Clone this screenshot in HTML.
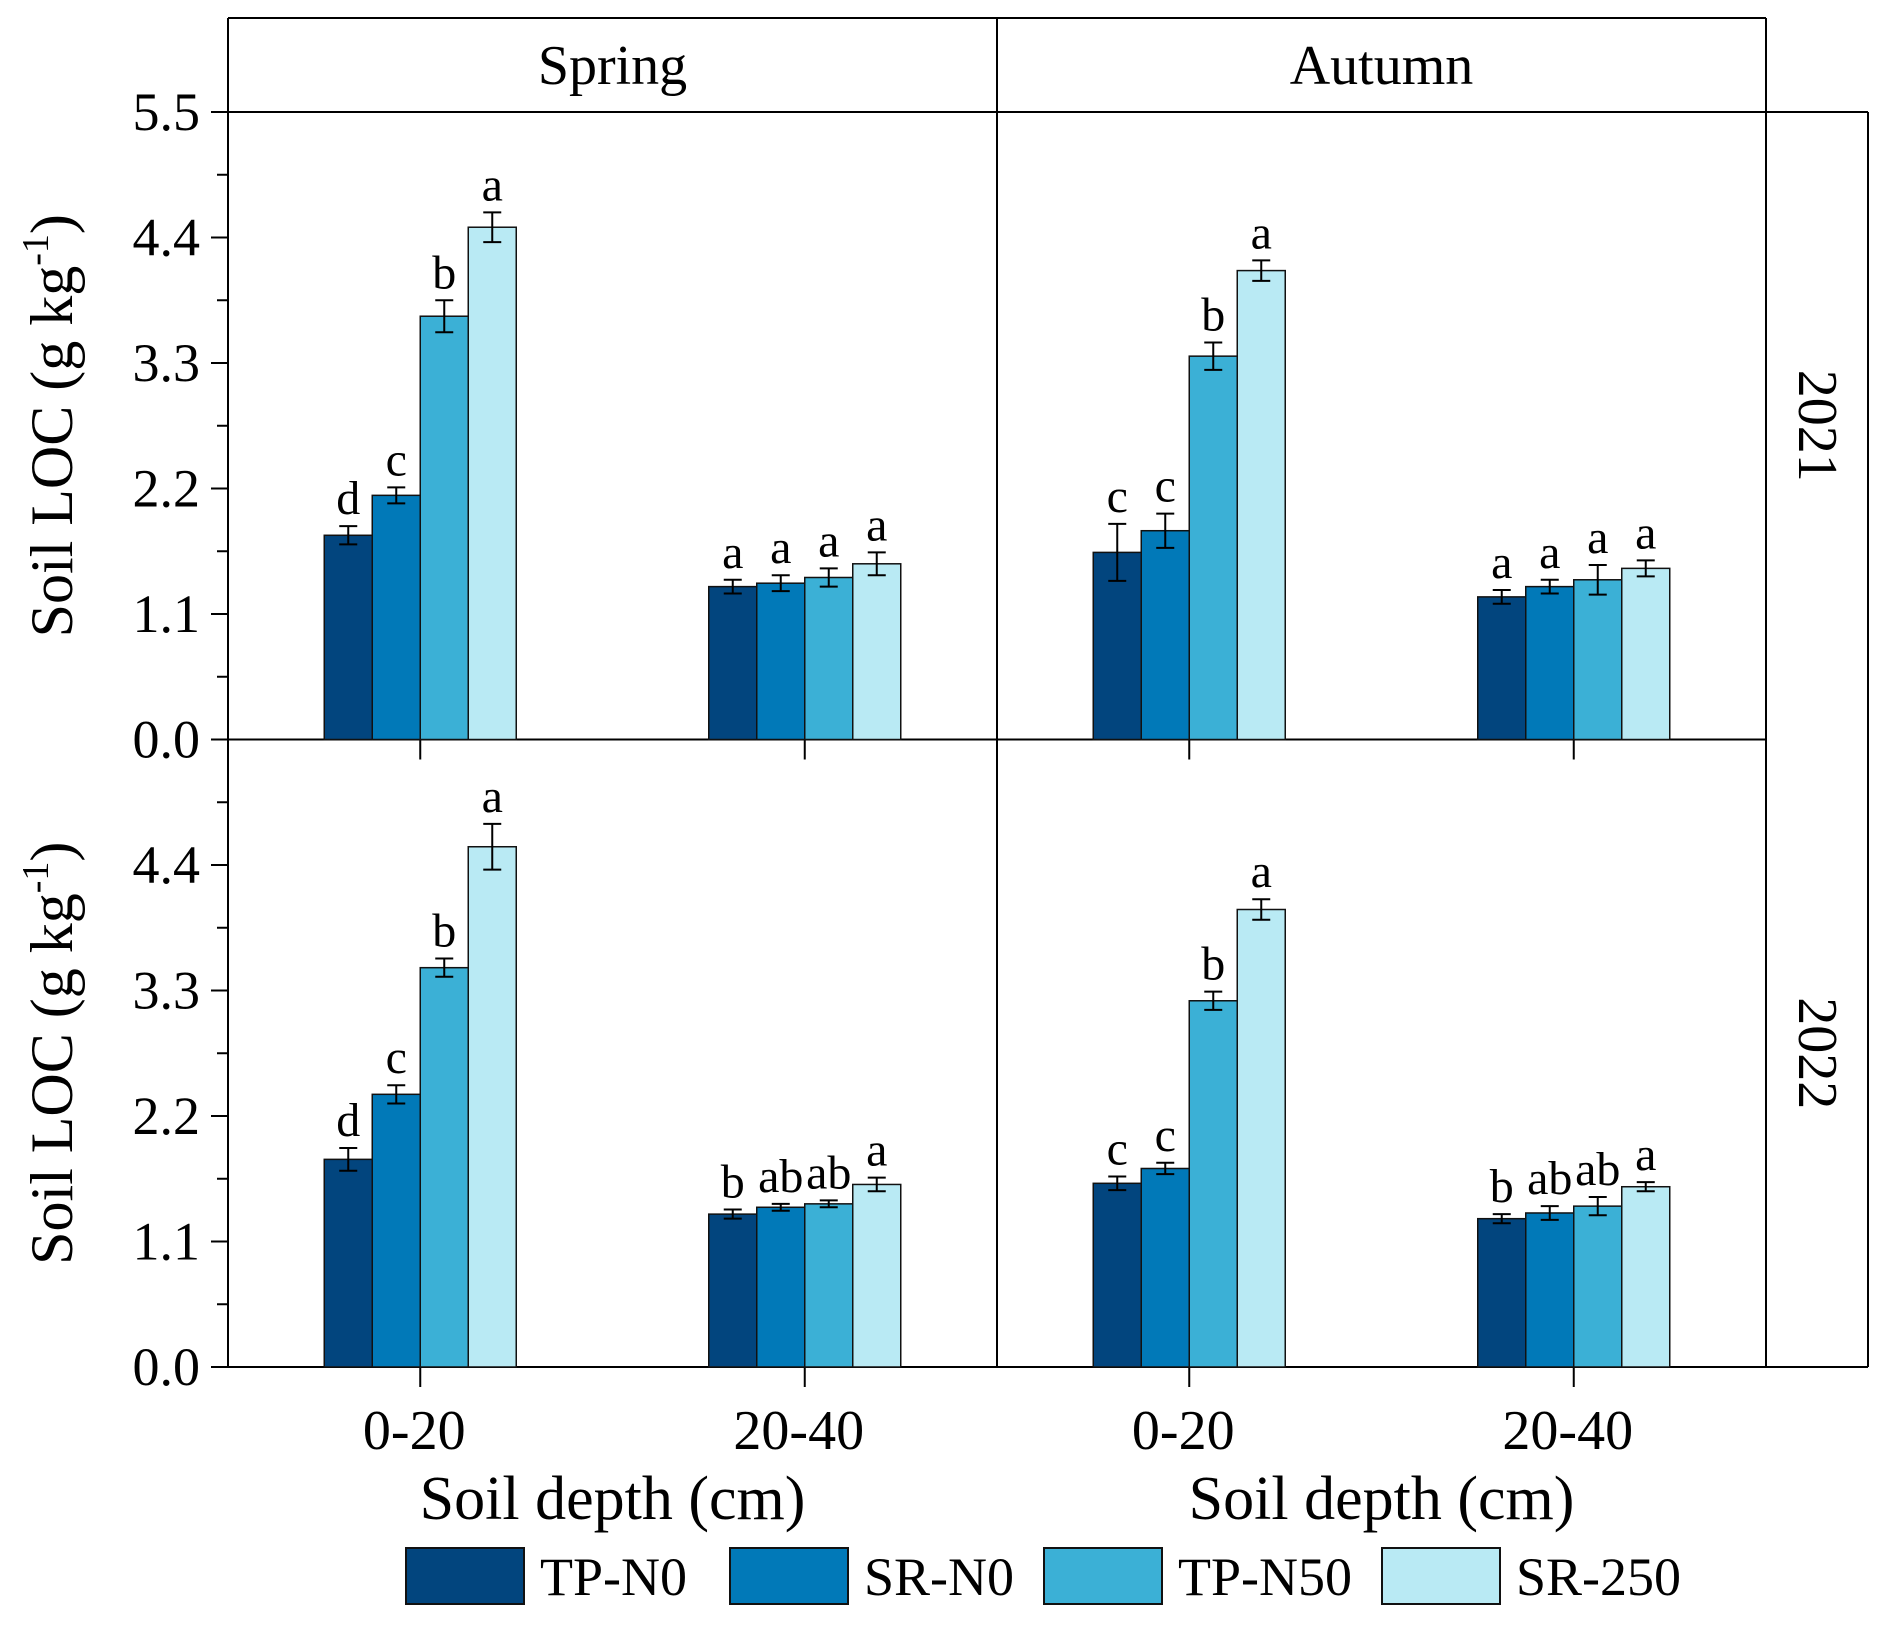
<!DOCTYPE html>
<html><head><meta charset="utf-8"><style>
body{margin:0;background:#fff}
svg text{font-family:"Liberation Serif",serif;fill:#000}
</style></head><body>
<svg id="c" width="1882" height="1625" viewBox="0 0 1882 1625" xmlns="http://www.w3.org/2000/svg"></svg>
<script>
const treatments=["TP-N0","SR-N0","TP-N50","SR-250"];
const colors=["#02457e","#0179b8","#3bb0d6","#b9eaf4"];
const depths=["0-20","20-40"];
const seasons=["Spring","Autumn"];
const years=["2021","2022"];
const yTicks=[0.0,1.1,2.2,3.3,4.4,5.5];
const v2021Spring=[[1.79,2.14,3.71,4.49],[1.34,1.37,1.42,1.54]];
const e2021Spring=[[0.08,0.07,0.14,0.13],[0.06,0.07,0.08,0.10]];
const l2021Spring=[["d","c","b","a"],["a","a","a","a"]];
const v2021Autumn=[[1.64,1.83,3.36,4.11],[1.25,1.34,1.40,1.50]];
const e2021Autumn=[[0.25,0.15,0.12,0.09],[0.06,0.06,0.13,0.07]];
const l2021Autumn=[["c","c","b","a"],["a","a","a","a"]];
const v2022Spring=[[1.82,2.39,3.50,4.56],[1.34,1.40,1.43,1.60]];
const e2022Spring=[[0.10,0.08,0.08,0.20],[0.04,0.03,0.03,0.06]];
const l2022Spring=[["d","c","b","a"],["b","ab","ab","a"]];
const v2022Autumn=[[1.61,1.74,3.21,4.01],[1.30,1.35,1.41,1.58]];
const e2022Autumn=[[0.06,0.05,0.08,0.09],[0.04,0.06,0.08,0.04]];
const l2022Autumn=[["c","c","b","a"],["b","ab","ab","a"]];
const VALS=[[v2021Spring,v2021Autumn],[v2022Spring,v2022Autumn]];
const ERRS=[[e2021Spring,e2021Autumn],[e2022Spring,e2022Autumn]];
const LETS=[[l2021Spring,l2021Autumn],[l2022Spring,l2022Autumn]];

const svg=document.getElementById('c');
const NS="http://www.w3.org/2000/svg";
function mk(tag,attrs,txt){const e=document.createElementNS(NS,tag);for(const k in attrs)e.setAttribute(k,attrs[k]);if(txt!==undefined)e.textContent=txt;svg.appendChild(e);return e;}
const X0=228,PW=769,TOP=112,PH=627.5,YMAX=5.5,BW=48;
function yS(row,v){return TOP+PH*(row+1)-v/YMAX*PH;}
function xC(col,d){return X0+col*PW+PW*(0.25+0.5*d);}

let e;
e=mk('line',{x1:X0,y1:18,x2:X0+2*PW,y2:18,stroke:'#000','stroke-width':2});

[X0,X0+PW,X0+2*PW].forEach(x=>{e=mk('line',{x1:x,y1:18,x2:x,y2:TOP+2*PH,stroke:'#000','stroke-width':2});
});
e=mk('line',{x1:X0,y1:TOP,x2:1868,y2:TOP,stroke:'#000','stroke-width':2});

e=mk('line',{x1:X0,y1:TOP+2*PH,x2:1868,y2:TOP+2*PH,stroke:'#000','stroke-width':2});

e=mk('line',{x1:1868,y1:TOP,x2:1868,y2:TOP+2*PH,stroke:'#000','stroke-width':2});


seasons.forEach((s,c)=>{e=mk('text',{x:X0+c*PW+PW/2,y:84,'font-size':56,'text-anchor':'middle'},s);
});
years.forEach((yr,r)=>{const cy=TOP+PH*r+PH/2;e=mk('text',{x:1817,y:cy,'font-size':56,'text-anchor':'middle','dominant-baseline':'central',transform:`rotate(90 1817 ${cy})`},yr);
});

for(let r=0;r<2;r++){
  yTicks.forEach((t,i)=>{const y=yS(r,t);
    if(r===1&&i===yTicks.length-1)return;
    e=mk('line',{x1:X0-17,y1:y,x2:X0,y2:y,stroke:'#000','stroke-width':2});
    
    e=mk('text',{x:X0-28,y:y+18,'font-size':54,'text-anchor':'end'},t.toFixed(1));
    
    if(i<yTicks.length-1){const ym=yS(r,t+0.55);
      e=mk('line',{x1:X0-11,y1:ym,x2:X0,y2:ym,stroke:'#000','stroke-width':2});
      }
  });
  const cy=TOP+PH*r+PH/2;
  e=mk('text',{x:72,y:cy,'font-size':60,'text-anchor':'middle',transform:`rotate(-90 72 ${cy})`});
  
  e.innerHTML='Soil LOC (g kg<tspan dy="-24" font-size="38">-1</tspan><tspan dy="24">)</tspan>';
  e=mk('line',{x1:X0,y1:yS(r,0),x2:X0+2*PW,y2:yS(r,0),stroke:'#000','stroke-width':2});
  
  for(let c=0;c<2;c++){
    for(let d=0;d<2;d++){
      const cx=xC(c,d);
      e=mk('line',{x1:cx,y1:yS(r,0),x2:cx,y2:yS(r,0)+20,stroke:'#000','stroke-width':2});
      
      for(let t=0;t<4;t++){
        const v=VALS[r][c][d][t],er=ERRS[r][c][d][t],lab=LETS[r][c][d][t];
        const x=cx+(t-2)*BW,y=yS(r,v),y0=yS(r,0);
        e=mk('rect',{x:x,y:y,width:BW,height:y0-y,fill:colors[t],stroke:'#111','stroke-width':1.5});
        
        
        const bx=x+BW/2,yt=yS(r,v+er),yb=yS(r,v-er);
        e=mk('path',{d:`M${bx-9},${yt}H${bx+9}M${bx},${yt}V${yb}M${bx-9},${yb}H${bx+9}`,stroke:'#000','stroke-width':2,fill:'none'});
        
        e=mk('text',{x:bx,y:yt-12,'font-size':48,'text-anchor':'middle'},lab);
        
      }
    }
  }
}
for(let c=0;c<2;c++){
  for(let d=0;d<2;d++){e=mk('text',{x:xC(c,d)-6,y:1449,'font-size':56,'text-anchor':'middle'},depths[d]);
    }
  e=mk('text',{x:X0+c*PW+PW/2,y:1519,'font-size':62,'text-anchor':'middle'},'Soil depth (cm)');
  
}
const lgX=[406,730,1044,1382];
treatments.forEach((t,i)=>{
  e=mk('rect',{x:lgX[i],y:1548,width:118,height:56,fill:colors[i],stroke:'#111','stroke-width':2});
  
  e=mk('text',{x:lgX[i]+134,y:1595,'font-size':54},t);
  
});
</script>
</body></html>
